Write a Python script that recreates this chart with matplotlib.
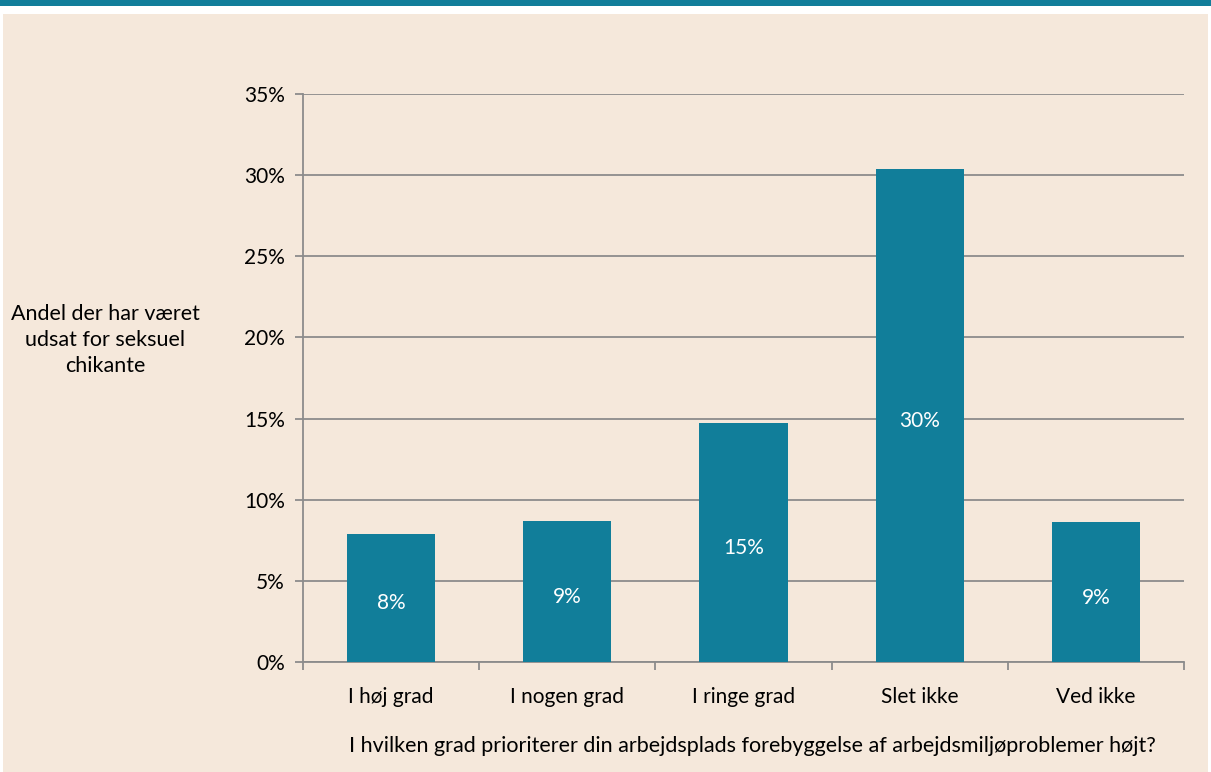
import matplotlib
matplotlib.use("Agg")
import matplotlib.pyplot as plt
from matplotlib.patches import Rectangle
from matplotlib.ticker import FuncFormatter, MultipleLocator

categories = ["I høj grad", "I nogen grad", "I ringe grad", "Slet ikke", "Ved ikke"]
values = [7.9, 8.7, 14.75, 30.4, 8.6]
labels = ["8%", "9%", "15%", "30%", "9%"]
ylabel = "Andel der har været\nudsat for seksuel\nchikante"
xlabel = "I hvilken grad prioriterer din arbejdsplads forebyggelse af arbejdsmiljøproblemer højt?"

teal = "#117E9A"
bg = "#F5E8DB"
grid = "#8C8C8C"
plt.rcParams['font.family'] = ['Lato', 'DejaVu Sans']

W, H = 1211, 772
fig = plt.figure(figsize=(W / 100, H / 100), dpi=100)
fig.patch.set_facecolor("white")
fig.add_artist(Rectangle((0, 1 - 6 / H), 1, 6 / H, transform=fig.transFigure, color=teal, lw=0, zorder=-5))
fig.add_artist(Rectangle((3 / W, 0), 1205 / W, (H - 14) / H, transform=fig.transFigure, color=bg, lw=0, zorder=-5))

ax = fig.add_axes([303 / W, 1 - 662 / H, (1184 - 303) / W, (662 - 94) / H])
ax.set_facecolor("none")
x = range(len(categories))
ax.bar(x, values, width=0.5, color=teal, zorder=3)
for i, (v, lab) in enumerate(zip(values, labels)):
    ax.annotate(lab, (i, v / 2), xytext=(0, -4), textcoords="offset points",
                ha="center", va="center", color="white", fontsize=15, zorder=4)

ax.set_xlim(-0.5, len(categories) - 0.5)
ax.set_ylim(0, 35)
ax.yaxis.set_major_locator(MultipleLocator(5))
ax.yaxis.set_major_formatter(FuncFormatter(lambda v, p: f"{v:.0f}%"))
ax.grid(axis="y", color=grid, lw=1.3, zorder=0)
ax.set_xticks(list(x))
ax.set_xticklabels(categories, fontsize=15)
ax.set_xticks([i - 0.5 for i in range(len(categories) + 1)], minor=True)
ax.tick_params(axis="x", which="major", length=0, pad=18)
ax.tick_params(axis="x", which="minor", length=6, color=grid, width=1.3)
ax.tick_params(axis="y", length=6, color=grid, width=1.3, labelsize=15, pad=7)
for s in ["top", "right"]:
    ax.spines[s].set_visible(False)
for s in ["left", "bottom"]:
    ax.spines[s].set_color(grid)
    ax.spines[s].set_linewidth(1.3)

fig.text(105 / W, 1 - 340 / H, ylabel, ha="center", va="center", fontsize=15.5, linespacing=1.4)
fig.text(752 / W, 1 - 746 / H, xlabel, ha="center", va="center", fontsize=15.5)

fig.savefig("out.png", dpi=100, facecolor=fig.get_facecolor())
